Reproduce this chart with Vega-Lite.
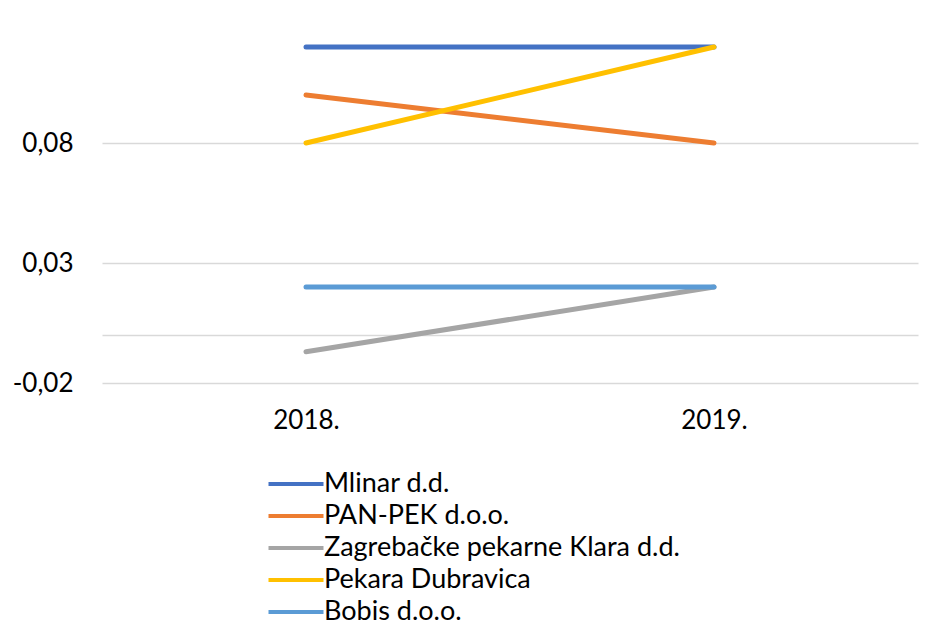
{
  "$schema": "https://vega.github.io/schema/vega-lite/v6.json",
  "autosize": "none",
  "width": 816,
  "height": 336,
  "padding": {"left": 102, "top": 47, "right": 19, "bottom": 255},
  "background": "#ffffff",
  "config": {
    "locale": {"number": {"decimal": ",", "thousands": ".", "grouping": [3], "currency": ["", ""], "minus": "-"}},
    "view": {"stroke": null},
    "font": "Lato"
  },
  "data": {
    "values": [
      {"tvrtka": "Mlinar d.d.", "godina": "2018.", "vrijednost": 0.12},
      {"tvrtka": "Mlinar d.d.", "godina": "2019.", "vrijednost": 0.12},
      {"tvrtka": "PAN-PEK d.o.o.", "godina": "2018.", "vrijednost": 0.10},
      {"tvrtka": "PAN-PEK d.o.o.", "godina": "2019.", "vrijednost": 0.08},
      {"tvrtka": "Zagrebačke pekarne Klara d.d.", "godina": "2018.", "vrijednost": -0.007},
      {"tvrtka": "Zagrebačke pekarne Klara d.d.", "godina": "2019.", "vrijednost": 0.02},
      {"tvrtka": "Pekara Dubravica", "godina": "2018.", "vrijednost": 0.08},
      {"tvrtka": "Pekara Dubravica", "godina": "2019.", "vrijednost": 0.12},
      {"tvrtka": "Bobis d.o.o.", "godina": "2018.", "vrijednost": 0.02},
      {"tvrtka": "Bobis d.o.o.", "godina": "2019.", "vrijednost": 0.02}
    ]
  },
  "mark": {"type": "line", "strokeWidth": 5, "strokeCap": "round", "strokeJoin": "round"},
  "encoding": {
    "x": {
      "field": "godina", "type": "ordinal",
      "scale": {"type": "point", "padding": 0.5},
      "axis": {"title": null, "labelAngle": 0, "domain": false, "ticks": false, "grid": false,
               "labelFontSize": 26, "labelPadding": 37, "labelBaseline": "middle", "labelColor": "#000000", "labelFont": "Lato"}
    },
    "y": {
      "field": "vrijednost", "type": "quantitative",
      "scale": {"domain": [-0.02, 0.12], "nice": false, "zero": false},
      "axis": {"title": null, "values": [-0.02, 0, 0.03, 0.08], "format": ".2f",
               "labelExpr": "datum.value == 0 ? '' : datum.label",
               "domain": false, "ticks": false, "gridColor": "#d9d9d9", "gridWidth": 1.5,
               "labelFontSize": 26, "labelPadding": 29, "labelColor": "#000000", "labelFont": "Lato"}
    },
    "color": {
      "field": "tvrtka", "type": "nominal",
      "sort": ["Mlinar d.d.", "PAN-PEK d.o.o.", "Zagrebačke pekarne Klara d.d.", "Pekara Dubravica", "Bobis d.o.o."],
      "scale": {
        "domain": ["Mlinar d.d.", "PAN-PEK d.o.o.", "Zagrebačke pekarne Klara d.d.", "Pekara Dubravica", "Bobis d.o.o."],
        "range": ["#4472C4", "#ED7D31", "#A5A5A5", "#FFC000", "#5B9BD5"]
      },
      "legend": {
        "title": null, "orient": "none", "legendX": 178, "legendY": 421, "padding": 0,
        "symbolType": "M-2,0H2", "symbolSize": 756.25, "symbolStrokeWidth": 4,
        "labelFontSize": 27, "labelFont": "Lato", "labelColor": "#000000", "labelOffset": 12,
        "rowPadding": 3, "labelLimit": 600
      }
    }
  }
}
